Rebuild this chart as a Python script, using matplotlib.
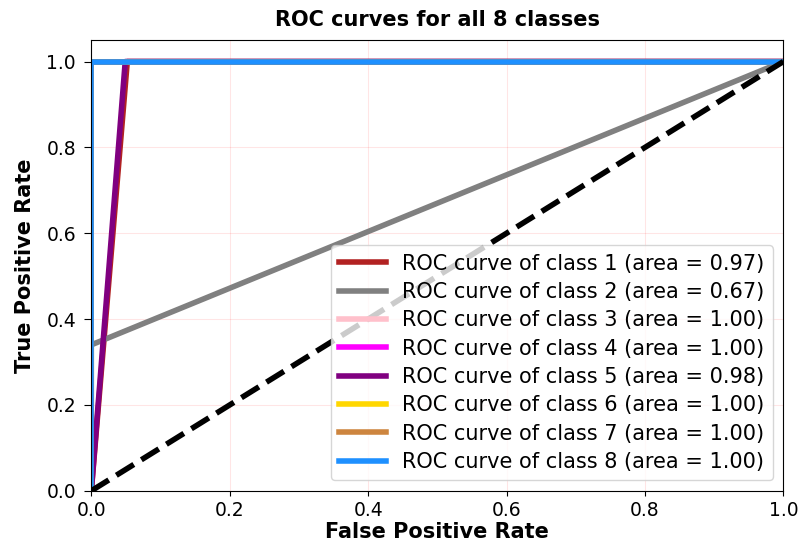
import numpy as np
import matplotlib
matplotlib.use('Agg')
import matplotlib.pyplot as plt

# ROC points (fpr, tpr) for each class
class_names = ['1', '2', '3', '4', '5', '6', '7', '8']
fpr_list = [
    [0.0, 0.052, 1.0],
    [0.0, 0.0, 1.0],
    [0.0, 0.0, 1.0],
    [0.0, 0.0, 1.0],
    [0.0, 0.049, 1.0],
    [0.0, 0.0, 1.0],
    [0.0, 0.0, 1.0],
    [0.0, 0.0, 1.0],
]
tpr_list = [
    [0.0, 1.0, 1.0],
    [0.0, 0.34, 1.0],
    [0.0, 1.0, 1.0],
    [0.0, 1.0, 1.0],
    [0.0, 1.0, 1.0],
    [0.0, 1.0, 1.0],
    [0.0, 1.0, 1.0],
    [0.0, 1.0, 1.0],
]
auc_list = [0.97, 0.67, 1.00, 1.00, 0.98, 1.00, 1.00, 1.00]
colors = ['firebrick', 'grey', 'pink', 'magenta', 'purple', 'gold', 'peru', 'dodgerblue']


def main():
    fig, ax = plt.subplots(figsize=(8.01, 5.49), dpi=100)

    for name, fpr, tpr, auc, c in zip(class_names, fpr_list, tpr_list, auc_list, colors):
        ax.plot(fpr, tpr, color=c, lw=4,
                label='ROC curve of class {0} (area = {1:0.2f})'.format(name, auc))

    # chance line
    ax.plot([0, 1], [0, 1], 'k--', lw=4)

    ax.set_xlim([0.0, 1.0])
    ax.set_ylim([0.0, 1.05])
    ax.grid(color='red', alpha=0.1)
    ax.tick_params(labelsize=13.5)
    ax.tick_params(axis='y', length=5, pad=6)
    ax.set_xlabel('False Positive Rate', fontsize=15, fontweight='bold', labelpad=2)
    ax.set_ylabel('True Positive Rate', fontsize=15, fontweight='bold', labelpad=8)
    ax.set_title('ROC curves for all 8 classes', fontsize=15, fontweight='bold', pad=10)
    ax.legend(loc='lower right', fontsize=15, labelspacing=0.4,
              handlelength=2.25, borderaxespad=0.5)

    fig.subplots_adjust(left=0.114, right=0.978, top=0.927, bottom=0.106)
    fig.savefig('out.png')


main()
